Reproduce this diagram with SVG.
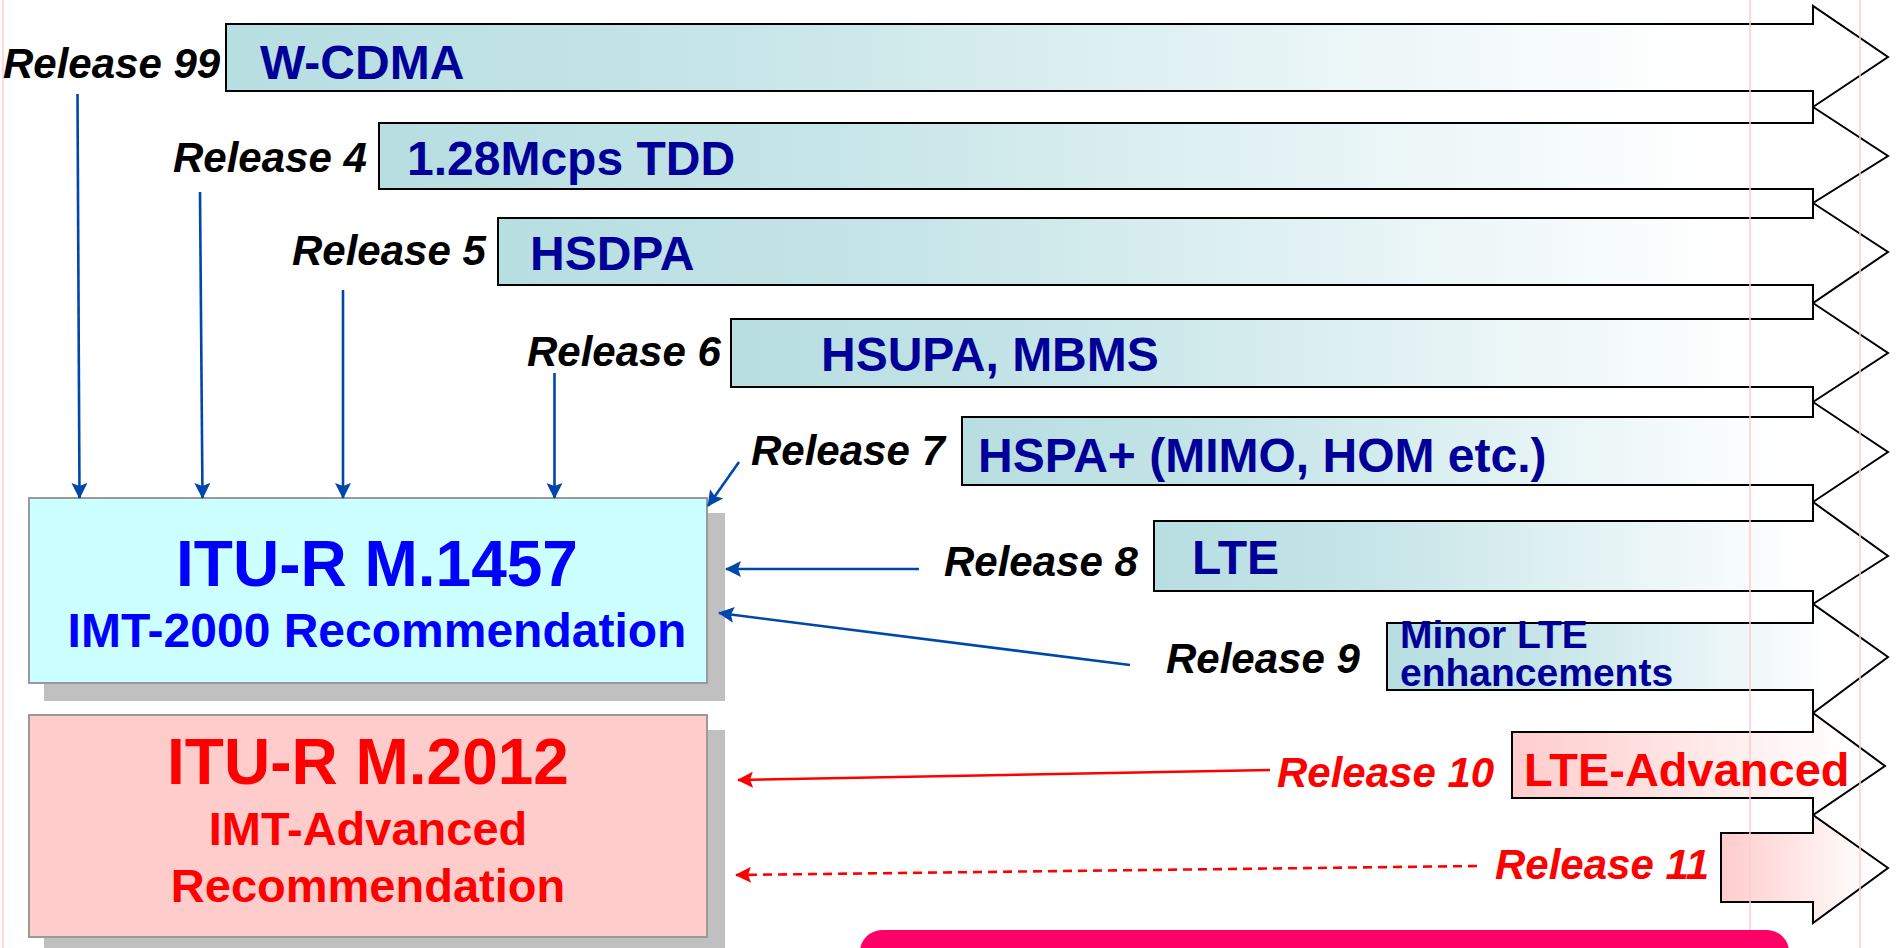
<svg xmlns="http://www.w3.org/2000/svg" width="1899" height="948" viewBox="0 0 1899 948">
<style>
.bar{stroke:#000;stroke-width:2;stroke-linejoin:miter}
.cy{fill:url(#gc)}
.pk{fill:url(#gp)}
.rel{font-family:"Liberation Sans",Arial,sans-serif;font-weight:bold;font-style:italic;font-size:42px;fill:#000}
.relr{fill:#ff0000}
.bt{font-family:"Liberation Sans",Arial,sans-serif;font-weight:bold;font-size:48px;fill:#000099}
.bts{font-size:39px}
.btr{font-size:47px;fill:#ff0000}
.bx{font-family:"Liberation Sans",Arial,sans-serif;font-weight:bold;text-anchor:middle}
.guide{stroke:#ffcccc;stroke-width:1.5}
.cb{stroke:#0047ab;stroke-width:2.6;fill:none;marker-end:url(#ab)}
.cr{stroke:#ff0000;stroke-width:2.6;fill:none;marker-end:url(#ar)}
</style>
<defs>
<linearGradient id="gc" x1="0" y1="0" x2="1" y2="0">
<stop offset="0" stop-color="#b7dee1"/>
<stop offset="0.3" stop-color="#c6e5e8"/>
<stop offset="0.88" stop-color="#ffffff"/>
</linearGradient>
<linearGradient id="gp" x1="0" y1="0" x2="1" y2="0">
<stop offset="0" stop-color="#ffcccc"/>
<stop offset="0.9" stop-color="#ffffff"/>
</linearGradient>
<marker id="ab" viewBox="0 0 16 16" refX="15" refY="8" markerWidth="16" markerHeight="16" markerUnits="userSpaceOnUse" orient="auto">
<path d="M0,0 L16,8 L0,16 L3,8 z" fill="#0047ab"/>
</marker>
<marker id="ar" viewBox="0 0 16 16" refX="15" refY="8" markerWidth="16" markerHeight="16" markerUnits="userSpaceOnUse" orient="auto">
<path d="M0,0 L16,8 L0,16 L3,8 z" fill="#ff0000"/>
</marker>
</defs>
<rect x="0" y="0" width="1899" height="948" fill="#ffffff"/>

<g id="arrows">
<g id="row-wcdma"><polygon class="bar cy" points="226,24 1813,24 1813,6 1888,57 1813,107 1813,91 226,91"/></g>
<g id="row-tdd"><polygon class="bar cy" points="379,123 1813,123 1813,107 1888,156 1813,203 1813,189 379,189"/></g>
<g id="row-hsdpa"><polygon class="bar cy" points="498,218 1813,218 1813,203 1888,252 1813,303 1813,285 498,285"/></g>
<g id="row-hsupa"><polygon class="bar cy" points="731,319 1813,319 1813,303 1888,353 1813,402 1813,387 731,387"/></g>
<g id="row-hspa"><polygon class="bar cy" points="962,417 1813,417 1813,402 1888,452 1813,502 1813,485 962,485"/></g>
<g id="row-lte"><polygon class="bar cy" points="1154,521 1813,521 1813,502 1888,556 1813,604 1813,591 1154,591"/></g>
<g id="row-minor"><polygon class="bar cy" points="1387,623 1813,623 1813,604 1888,657 1813,713 1813,690 1387,690"/></g>
<g id="row-ltea"><polygon class="bar pk" points="1512,732 1813,732 1813,713 1885,766 1813,815 1813,798 1512,798"/></g>
<g id="row-r11"><polygon class="bar pk" points="1721,833 1813,833 1813,815 1888,868 1813,923 1813,902 1721,902"/></g>
</g>

<g id="guides">
<line class="guide" x1="3" y1="0" x2="3" y2="948"/>
<line class="guide" x1="1750" y1="0" x2="1750" y2="948"/>
<line class="guide" x1="1860" y1="0" x2="1860" y2="948"/>
</g>

<g id="node-m1457">
<rect x="44" y="513" width="681" height="188" fill="#c0c0c0"/>
<rect x="29" y="498" width="678" height="185" fill="#ccffff" stroke="#999999" stroke-width="2"/>
<text class="bx" x="377" y="586" font-size="64" fill="#0000ff">ITU-R M.1457</text>
<text class="bx" x="377" y="647" font-size="48" fill="#0000ff">IMT-2000 Recommendation</text>
</g>

<g id="node-m2012">
<rect x="44" y="730" width="681" height="230" fill="#c0c0c0"/>
<rect x="29" y="715" width="678" height="222" fill="#ffcccc" stroke="#999999" stroke-width="2"/>
<text class="bx" x="368" y="784" font-size="64" fill="#ff0000">ITU-R M.2012</text>
<text class="bx" x="368" y="845" font-size="47" fill="#ff0000">IMT-Advanced</text>
<text class="bx" x="368" y="902" font-size="47" fill="#ff0000">Recommendation</text>
</g>

<g id="node-banner">
<rect x="860" y="930" width="929" height="70" rx="22" fill="#ff0066"/>
</g>

<g id="connectors">
<line class="cb" x1="77.5" y1="94" x2="79.5" y2="498"/>
<line class="cb" x1="200" y1="192" x2="202.5" y2="498"/>
<line class="cb" x1="343" y1="290" x2="343" y2="498"/>
<line class="cb" x1="554.5" y1="373" x2="554.5" y2="498"/>
<line class="cb" x1="739" y1="462" x2="708" y2="506"/>
<line class="cb" x1="919" y1="569" x2="726" y2="569"/>
<line class="cb" x1="1130" y1="665" x2="719" y2="613"/>
<line class="cr" x1="1270" y1="770" x2="738" y2="780"/>
<line class="cr" x1="1477" y1="866" x2="736" y2="875" stroke-dasharray="9 6"/>
</g>

<g id="labels">
<text class="rel" x="3" y="78">Release 99</text>
<text class="rel" x="173" y="172">Release 4</text>
<text class="rel" x="292" y="265">Release 5</text>
<text class="rel" x="527" y="366">Release 6</text>
<text class="rel" x="751" y="465">Release 7</text>
<text class="rel" x="944" y="576">Release 8</text>
<text class="rel" x="1166" y="673">Release 9</text>
<text class="rel relr" x="1277" y="787">Release 10</text>
<text class="rel relr" x="1495" y="879">Release 11</text>
</g>

<g id="bar-texts">
<text class="bt" x="260" y="79">W-CDMA</text>
<text class="bt" x="407" y="175">1.28Mcps TDD</text>
<text class="bt" x="530" y="270">HSDPA</text>
<text class="bt" x="821" y="371">HSUPA, MBMS</text>
<text class="bt" x="978" y="472">HSPA+ (MIMO, HOM etc.)</text>
<text class="bt" x="1192" y="574">LTE</text>
<text class="bt bts" x="1400" y="648">Minor LTE</text>
<text class="bt bts" x="1400" y="686">enhancements</text>
<text class="bt btr" x="1524" y="786">LTE-Advanced</text>
</g>
</svg>
